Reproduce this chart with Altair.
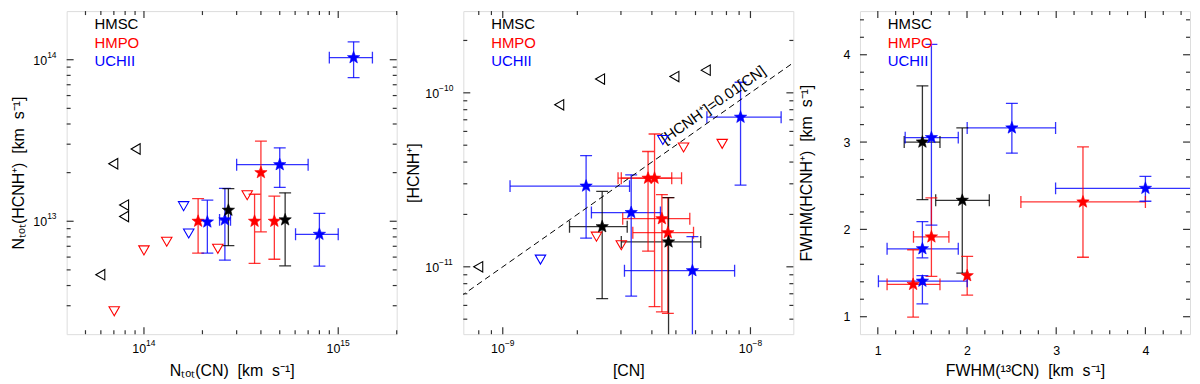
import altair as alt
import pandas as pd

FONT = "Liberation Sans"
FRAME = "#333333"
CLASSES = ["HMSC", "HMPO", "UCHII"]
CLASS_COLORS = ["#000000", "#ff0000", "#0000ff"]
STAR = ("M0,-1L0.247,-0.34L0.951,-0.309L0.399,0.13L0.588,0.809L0,0.42"
        "L-0.588,0.809L-0.399,0.13L-0.951,-0.309L-0.247,-0.34Z")
W, H = 332, 325

# ---------------- Panel 1: Ntot(HCNH+) vs Ntot(CN) ----------------
p1_cls = ["UCHII", "UCHII", "HMPO", "HMPO", "UCHII", "UCHII", "HMSC", "HMPO", "HMPO", "HMSC", "UCHII"]
p1_x = [1.2e15, 5.0e14, 4.0e14, 1.9e14, 2.12e14, 2.61e14, 2.72e14, 3.71e14, 4.69e14, 5.33e14, 8.0e14]
p1_y = [1.03e14, 2.24e13, 2.0e13, 1.0e13, 9.9e12, 1.02e13, 1.17e13, 1.0e13, 1.0e13, 1.02e13, 8.3e12]
p1_xlo = [9.0e14, 3.0e14, None, None, None, 2.45e14, None, None, None, None, 6.03e14]
p1_xhi = [1.5e15, 7.0e14, None, None, None, 2.79e14, None, None, None, None, 1.0e15]
p1_ylo = [7.74e13, 1.62e13, 8.6e12, 6.35e12, 6.35e12, 5.74e12, 7.06e12, 5.48e12, 5.82e12, 5.3e12, 5.28e12]
p1_yhi = [1.29e14, 2.85e13, 3.13e13, 1.38e13, 1.35e13, 1.6e13, 1.59e13, 1.47e13, 1.43e13, 1.5e13, 1.12e13]
p1_tri_cls = ["HMSC", "HMSC", "HMSC", "HMSC", "HMSC", "HMPO", "HMPO", "HMPO", "HMPO", "HMPO", "UCHII", "UCHII"]
p1_tri_x = [6.95e13, 9.06e13, 7.9e13, 7.9e13, 5.96e13, 7.03e13, 1.0e14, 1.31e14, 2.4e14, 3.4e14, 1.6e14, 1.7e14]
p1_tri_y = [2.27e13, 2.8e13, 1.26e13, 1.07e13, 4.67e12, 2.77e12, 6.6e12, 7.47e12, 6.75e12, 1.45e13, 1.24e13, 8.4e12]

# ---------------- Panel 2: [HCNH+] vs [CN] ----------------
p2_cls = ["UCHII", "UCHII", "UCHII", "UCHII", "HMPO", "HMPO", "HMPO", "HMPO", "HMSC", "HMSC"]
p2_x = [9.12e-9, 2.17e-9, 3.3e-9, 5.83e-9, 3.86e-9, 4.1e-9, 4.39e-9, 4.64e-9, 2.52e-9, 4.67e-9]
p2_y = [7.24e-11, 2.91e-11, 2.05e-11, 9.5e-12, 3.23e-11, 3.23e-11, 1.89e-11, 1.57e-11, 1.70e-11, 1.39e-11]
p2_xlo = [6.67e-9, 1.07e-9, 2.28e-9, 3.1e-9, 2.92e-9, 3.01e-9, 3.05e-9, 3.35e-9, 1.86e-9, 3.01e-9]
p2_xhi = [1.33e-8, 3.25e-9, 4.33e-9, 8.63e-9, 4.81e-9, 5.27e-9, 5.69e-9, 5.89e-9, 3.18e-9, 6.3e-9]
p2_ylo = [2.95e-11, 1.46e-11, 6.79e-12, 3.0e-12, 1.23e-11, 5.9e-12, 5.5e-12, 5.4e-12, 6.56e-12, 3.0e-12]
p2_yhi = [1.15e-10, 4.36e-11, 3.38e-11, 1.49e-11, 4.6e-11, 5.8e-11, 2.6e-11, 2.5e-11, 2.71e-11, 2.5e-11]
p2_tri_cls = ["HMSC", "HMSC", "HMSC", "HMSC", "HMSC", "UCHII", "UCHII", "HMPO", "HMPO", "HMPO", "HMPO"]
p2_tri_x = [7.96e-10, 1.69e-9, 2.47e-9, 4.93e-9, 6.6e-9, 1.42e-9, 4.43e-9, 2.39e-9, 3.01e-9, 5.37e-9, 7.69e-9]
p2_tri_y = [1.0e-11, 8.53e-11, 1.2e-10, 1.24e-10, 1.35e-10, 1.1e-11, 5.36e-11, 1.49e-11, 1.33e-11, 4.85e-11, 5.09e-11]
ratio = 0.01
line_cn = [5.0e-10, 2.0e-8]
label_cn = [4.7e-9]

# ---------------- Panel 3: FWHM(HCNH+) vs FWHM(13CN) ----------------
p3_cls = ["HMSC", "HMSC", "UCHII", "UCHII", "UCHII", "UCHII", "UCHII", "HMPO", "HMPO", "HMPO", "HMPO"]
p3_x = [1.50, 1.947, 1.601, 2.503, 4.0, 1.50, 1.50, 3.30, 1.601, 1.396, 2.002]
p3_y = [3.0, 2.333, 3.051, 3.162, 2.47, 1.778, 1.407, 2.314, 1.914, 1.37, 1.47]
p3_xlo = [1.296, 1.649, 1.307, 2.002, 2.993, 1.104, 1.007, 2.604, 1.40, 1.104, None]
p3_xhi = [1.697, 2.25, 1.902, 2.993, 5.0, 1.902, 2.002, 4.0, 1.797, 1.697, None]
p3_ylo = [2.34, 1.50, 2.05, 2.873, 2.322, 1.674, 1.148, 1.681, 1.462, 0.996, 1.248]
p3_yhi = [3.644, 3.162, 4.118, 3.444, 2.607, 2.09, 1.47, 2.944, 2.36, 1.767, 1.692]

# ---------------- ticks / labels ----------------
p1_xmaj, p1_xexp = [1e14, 1e15], ["14", "15"]
p1_xmin = [5e13, 6e13, 7e13, 8e13, 9e13, 2e14, 3e14, 4e14, 5e14, 6e14, 7e14, 8e14, 9e14, 2e15]
p1_ymaj, p1_yexp = [1e13, 1e14], ["13", "14"]
p1_ymin = [3e12, 4e12, 5e12, 6e12, 7e12, 8e12, 9e12, 2e13, 3e13, 4e13, 5e13, 6e13, 7e13, 8e13, 9e13]
p2_xmaj, p2_xexp = [1e-9, 1e-8], ["\u22129", "\u22128"]
p2_xmin = [8e-10, 9e-10, 2e-9, 3e-9, 4e-9, 5e-9, 6e-9, 7e-9, 8e-9, 9e-9]
p2_ymaj, p2_yexp = [1e-11, 1e-10], ["\u221211", "\u221210"]
p2_ymin = [5e-12, 6e-12, 7e-12, 8e-12, 9e-12, 2e-11, 3e-11, 4e-11, 5e-11, 6e-11, 7e-11, 8e-11, 9e-11, 2e-10]
p3_maj = [1, 2, 3, 4]
p3_min = [1.2, 1.4, 1.6, 1.8, 2.2, 2.4, 2.6, 2.8, 3.2, 3.4, 3.6, 3.8, 4.2, 4.4]

NB = "\u00a0"
titles = {
    "p1x": f"N\u209c\u2092\u209c(CN) {NB}[km{NB} s\u207b\u00b9]",
    "p1y": f"N\u209c\u2092\u209c(HCNH\u207a) {NB}[km{NB} s\u207b\u00b9]",
    "p2x": "[CN]",
    "p2y": "[HCNH\u207a]",
    "p3x": f"FWHM(\u00b9\u00b3CN) {NB}[km{NB} s\u207b\u00b9]",
    "p3y": f"FWHM(HCNH\u207a) {NB}[km{NB} s\u207b\u00b9]",
}

LBL = 12.5   # tick label font size
EXP = 8.5    # exponent font size


def make_axis(orient, vals, title, title_off, show_labels):
    common = dict(values=vals, ticks=False, domain=False, grid=False, labels=show_labels,
                  labelFont=FONT, labelFontSize=LBL, labelColor="black",
                  labelOverlap=False, labelFlush=False, title=title, titleFont=FONT,
                  titleFontSize=16, titleFontWeight="normal", titleColor="black",
                  titleAlign="center", titleBaseline="middle")
    if orient == "bottom":
        return alt.Axis(labelPadding=10, titleX=W / 2, titleY=title_off, **common)
    return alt.Axis(labelPadding=10, titleX=-title_off, titleY=H / 2, titleAngle=270, **common)


def exp_width(e):
    return 4.8 * len(e)


def log_labels(X, Y, xvals, xexps, yvals, yexps):
    out = []
    w10 = 1.112 * LBL
    for v, e in zip(xvals, xexps):
        anchor = (w10 - exp_width(e)) / 2
        d = alt.Chart(pd.DataFrame({"v": [v], "m": ["10"], "e": [e]}))
        out.append(d.mark_text(align="right", baseline="middle", fontSize=LBL, dx=anchor,
                               font=FONT, color="black").encode(x=X("v"), y=alt.value(H + 15), text="m:N"))
        out.append(d.mark_text(align="left", baseline="middle", fontSize=EXP, dx=anchor,
                               font=FONT, color="black").encode(x=X("v"), y=alt.value(H + 9), text="e:N"))
    for v, e in zip(yvals, yexps):
        xr = -10 - exp_width(e)
        d = alt.Chart(pd.DataFrame({"v": [v], "m": ["10"], "e": [e]}))
        out.append(d.mark_text(align="right", baseline="middle", fontSize=LBL, dy=1,
                               font=FONT, color="black").encode(y=Y("v"), x=alt.value(xr), text="m:N"))
        out.append(d.mark_text(align="left", baseline="middle", fontSize=EXP, dy=-5,
                               font=FONT, color="black").encode(y=Y("v"), x=alt.value(xr), text="e:N"))
    return out


def panel(stars, tris, xscale, yscale, xaxis, yaxis, xmaj, xmin, ymaj, ymin, extra=(), labels=None):
    color = alt.Color("cls:N", scale=alt.Scale(domain=CLASSES, range=CLASS_COLORS), legend=None)

    def X(f):
        return alt.X(f, type="quantitative", scale=xscale, axis=xaxis)

    def Y(f):
        return alt.Y(f, type="quantitative", scale=yscale, axis=yaxis)

    sd = pd.DataFrame(stars)
    base = alt.Chart(sd)
    layers = []
    bar = dict(clip=True, strokeWidth=1.3, opacity=0.8)
    xe = base.transform_filter("isValid(datum.xlo)")
    ye = base.transform_filter("isValid(datum.ylo)")
    layers.append(xe.mark_rule(**bar).encode(x=X("xlo"), x2="xhi", y=Y("y"), color=color))
    layers.append(ye.mark_rule(**bar).encode(y=Y("ylo"), y2="yhi", x=X("x"), color=color))
    cap = dict(clip=True, size=12, thickness=1.3, opacity=0.8)
    for f in ["xlo", "xhi"]:
        layers.append(xe.mark_tick(orient="vertical", **cap).encode(x=X(f), y=Y("y"), color=color))
    for f in ["ylo", "yhi"]:
        layers.append(ye.mark_tick(orient="horizontal", **cap).encode(y=Y(f), x=X("x"), color=color))
    layers.extend(fn(X, Y) for fn in extra)
    if tris is not None:
        td = pd.DataFrame(tris)
        layers.append(alt.Chart(td).mark_point(filled=False, size=110, strokeWidth=1.1, opacity=1, clip=True).encode(
            x=X("x"), y=Y("y"), color=color,
            shape=alt.Shape("shp:N", scale=alt.Scale(domain=["left", "down"],
                                                      range=["triangle-left", "triangle-down"]), legend=None)))
    layers.append(base.mark_point(shape=STAR, filled=True, size=170, opacity=1, strokeWidth=0.6).encode(
        x=X("x"), y=Y("y"), color=color, stroke=color))
    # inward ticks on all four sides
    for vals, L in [(xmaj, 7), (xmin, 4)]:
        d = alt.Chart(pd.DataFrame({"v": vals}))
        layers.append(d.mark_rule(color=FRAME, strokeWidth=1.2).encode(x=X("v"), y=alt.value(H), y2=alt.value(H - L)))
        layers.append(d.mark_rule(color=FRAME, strokeWidth=1.2).encode(x=X("v"), y=alt.value(0), y2=alt.value(L)))
    for vals, L in [(ymaj, 7), (ymin, 4)]:
        d = alt.Chart(pd.DataFrame({"v": vals}))
        layers.append(d.mark_rule(color=FRAME, strokeWidth=1.2).encode(y=Y("v"), x=alt.value(0), x2=alt.value(L)))
        layers.append(d.mark_rule(color=FRAME, strokeWidth=1.2).encode(y=Y("v"), x=alt.value(W), x2=alt.value(W - L)))
    if labels is not None:
        layers.extend(log_labels(X, Y, *labels))
    # class legend
    for i, (c, col) in enumerate(zip(CLASSES, CLASS_COLORS)):
        layers.append(alt.Chart(pd.DataFrame({"t": [c]})).mark_text(
            align="left", baseline="middle", font=FONT, fontSize=15, color=col).encode(
            text="t:N", x=alt.value(28), y=alt.value(13.5 + 18.5 * i)))
    return alt.layer(*layers).properties(width=W, height=H)


def stars_dict(cls, x, y, xlo, xhi, ylo, yhi):
    return {"cls": cls, "x": x, "y": y, "xlo": xlo, "xhi": xhi, "ylo": ylo, "yhi": yhi}


def tris_dict(cls, x, y):
    return {"cls": cls, "x": x, "y": y, "shp": ["left" if c == "HMSC" else "down" for c in cls]}


s1 = alt.Scale(type="log", domain=[4e13, 2e15])
s1y = alt.Scale(type="log", domain=[2e12, 2e14])
s2 = alt.Scale(type="log", domain=[6.93e-10, 1.49e-8])
s2y = alt.Scale(type="log", domain=[4.1e-12, 2.95e-10])
s3 = alt.Scale(type="linear", domain=[0.8, 4.5], nice=False, zero=False)
s3y = alt.Scale(type="linear", domain=[0.8, 4.5], nice=False, zero=False)

ch1 = panel(stars_dict(p1_cls, p1_x, p1_y, p1_xlo, p1_xhi, p1_ylo, p1_yhi),
            tris_dict(p1_tri_cls, p1_tri_x, p1_tri_y), s1, s1y,
            make_axis("bottom", p1_xmaj, titles["p1x"], 37, False),
            make_axis("left", p1_ymaj, titles["p1y"], 48, False),
            p1_xmaj, p1_xmin, p1_ymaj, p1_ymin,
            labels=(p1_xmaj, p1_xexp, p1_ymaj, p1_yexp))


def ratio_line(X, Y):
    d = pd.DataFrame({"cn": line_cn, "hc": [ratio * v for v in line_cn]})
    return alt.Chart(d).mark_line(color="black", strokeDash=[6, 4], strokeWidth=1, clip=True).encode(
        x=X("cn"), y=Y("hc"))


def ratio_label(X, Y):
    d = pd.DataFrame({"cn": label_cn, "hc": [ratio * v for v in label_cn],
                      "t": ["[HCNH\u207a]=0.01[CN]"]})
    return alt.Chart(d).mark_text(align="left", baseline="bottom", angle=325, dy=-4, font=FONT,
                                  fontSize=15, color="black").encode(x=X("cn"), y=Y("hc"), text="t:N")


ch2 = panel(stars_dict(p2_cls, p2_x, p2_y, p2_xlo, p2_xhi, p2_ylo, p2_yhi),
            tris_dict(p2_tri_cls, p2_tri_x, p2_tri_y), s2, s2y,
            make_axis("bottom", p2_xmaj, titles["p2x"], 37, False),
            make_axis("left", p2_ymaj, titles["p2y"], 50, False),
            p2_xmaj, p2_xmin, p2_ymaj, p2_ymin, extra=(ratio_line, ratio_label),
            labels=(p2_xmaj, p2_xexp, p2_ymaj, p2_yexp))

ch3 = panel(stars_dict(p3_cls, p3_x, p3_y, p3_xlo, p3_xhi, p3_ylo, p3_yhi),
            None, s3, s3y,
            make_axis("bottom", p3_maj, titles["p3x"], 37, True),
            make_axis("left", p3_maj, titles["p3y"], 54, True),
            p3_maj, p3_min, p3_maj, p3_min)

chart = alt.hconcat(ch1, ch2, ch3, spacing=67, bounds="flush").properties(
    padding={"left": 2, "top": 0, "right": 0, "bottom": 0}
).configure_view(stroke=FRAME, strokeWidth=1.5).configure(font=FONT)

chart.save("out.html", embed_options={"renderer": "svg", "actions": False})
